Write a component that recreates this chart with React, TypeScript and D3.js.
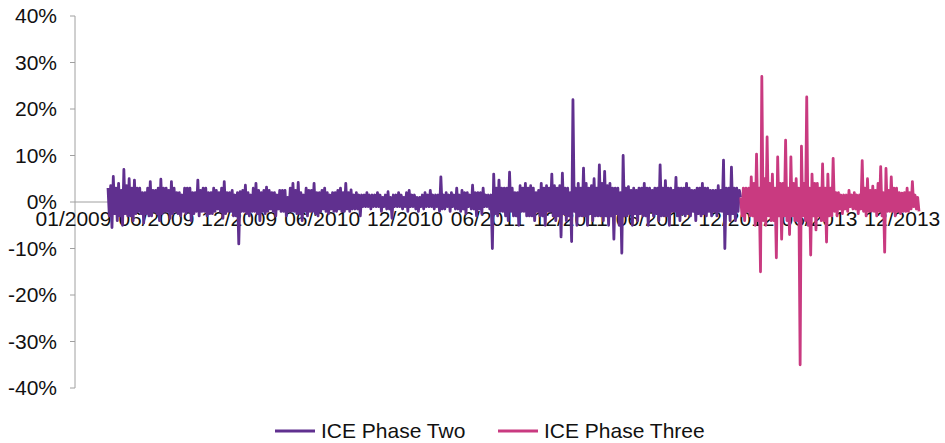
import React from "react";
import * as d3 from "d3";

const TICK_LABELS = ["01/2009","06/2009","12/2009","06/2010","12/2010","06/2011","12/2011","06/2012","12/2012","06/2013","12/2013"];
const Y_TICKS = [-40, -30, -20, -10, 0, 10, 20, 30, 40];
const TICK_STEP_DAYS = 125.5;
const STEP_DAYS = 2;
const PHASE_TWO_START = 50;

const PHASE_TWO = [
  3, -3, 3.5, -5.5, 5.5, -2.5, 3, -4, 4, -3, 2.5, -5, 7, -2.5, 3.5, -3, 5, -3, 3, -4,
  4.7, -2.5, 3, -2, 3, -2.5, 2, -4.5, 2, -2.5, 3, -3, 4.4, -3, 2.5, -2, 2.5, -2.5, 3, -4,
  4.9, -2.5, 3, -2, 3, -2, 2.5, -3.5, 4.4, -2.5, 3, -2, 2, -2.5, 2, -3, 1.5, -2, 3, -2.5,
  3, -2, 3, -4, 2, -2.5, 2, -2, 4.7, -3, 2.5, -2, 3, -2, 3, -3, 2, -2.5, 2, -2.5,
  3, -2, 2.5, -1.5, 2, -2, 3, -3.5, 4.4, -2.5, 2, -2, 2, -2, 2.5, -3, 1.5, -3, 2, -9,
  2.2, -2, 2.5, -2, 3.6, -2.5, 2, -3, 1.5, -2, 3, -2, 4, -2.5, 2.5, -4, 2, -2, 2.5, -2.5,
  3.2, -2, 2.5, -1.5, 2, -2, 2, -3, 1.5, -1.5, 2.5, -2, 2.5, -2, 2.5, -3, 1, -2, 3, -2,
  4, -2, 2.5, -2.5, 4.2, -2.5, 2, -4, 1.5, -2, 3, -3, 2.5, -2, 2.5, -2, 4, -2.5, 2, -3,
  2, -2, 2.5, -1.5, 3, -2, 2, -2.5, 1.5, -1.5, 2, -2, 2, -2, 2.5, -1.5, 3, -2, 2, -2,
  4, -1.5, 2, -2, 2.6, -1.5, 1.5, -1.5, 2, -1.5, 1.5, -3, 1.5, -1, 1.5, -1, 2, -1, 1.5, -1.5,
  1.5, -1, 1.5, -1, 2, -1, 1.5, -2, 1, -1, 1.5, -1.5, 2.2, -1.5, 1, -3.5, 1.5, -1, 1.5, -1,
  2, -1, 1.5, -1.5, 1, -1, 2, -2, 2.5, -1, 1.5, -1, 1.5, -1.5, 1, -2, 1, -1, 1.5, -1.5,
  2, -1, 1.5, -1, 2.5, -1, 1.5, -1.5, 1.5, -1, 1.5, -2, 5.4, -1.5, 1.5, -1.5, 2, -1, 1.5, -2,
  2, -1, 1.5, -1.5, 3, -1.5, 1.5, -2, 2.5, -1.5, 2, -2.5, 2, -1, 1.5, -1.5, 3.6, -1.5, 2, -3,
  2, -1.5, 2, -2.5, 3, -1, 1.5, -1, 1.5, -1.5, 1.5, -10, 6, -2.5, 3, -3, 4.7, -2, 3, -2,
  3, -3, 3, -4, 6.4, -2, 3, -3, 2, -3, 2, -5, 3.5, -2, 3, -2, 4, -3, 3, -3,
  3.5, -3, 3, -4, 2, -2, 2.5, -3, 4, -3, 3, -5, 3.5, -2, 3, -2, 6, -3, 3.5, -4,
  3, -3, 3.5, -7.5, 6.2, -2.5, 3, -4, 3, -3, 2, -8.5, 22, -2, 3, -5, 4, -3, 3, -3,
  7.3, -3, 4, -5, 3, -2.5, 3.5, -4, 5, -3, 3, -3, 8, -3, 4, -4, 6.6, -3, 3.5, -5,
  4, -3, 3, -8, 3, -2.5, 3, -5, 2, -11, 10, -3, 3, -3, 3.3, -2.5, 2.5, -5, 3, -2.5,
  2.5, -4, 3, -2.5, 3, -3, 4, -3, 3, -5, 3, -2, 2.5, -3, 3, -2.5, 3, -4, 8, -3,
  3, -3, 4.6, -3, 3, -5, 3, -2, 2.5, -2, 5.3, -3, 3, -4, 3, -2.5, 3, -3, 4, -2.5,
  3, -3, 2.5, -2, 2.5, -4, 3, -2.5, 3, -3, 4, -2.5, 3, -3, 3, -2, 2.5, -3, 2.5, -2,
  2.5, -3, 3.5, -2, 2.5, -2, 9, -10, 3, -2.5, 3, -4, 7.5, -2.5, 3, -4, 3, -2, 2.5, 1,
];

const PHASE_THREE = [
  1, -3, 3, -4, 3, -2, 3, -3, 5.4, -3, 4, -5, 10.3, -4, 3, -15, 27, -4, 5, -5,
  14, -3, 4, -4, 6, -4, 3, -12, 9.7, -3, 4, -8, 4, -3, 13.3, -4, 3, -7, 9.7, -3,
  4, -4, 5, -4, 3, -35, 12, -3, 4, -4, 22.6, -5, 3, -11.4, 6, -3, 4, -6, 4, -3,
  3, -4, 8.2, -4, 3, -8.6, 6, -3, 3, -3, 9.4, -2, 2, -3, 2, -1.5, 1.5, -2.5, 1.5, -1.5,
  1.5, -2, 2.5, -1, 1.5, -1.5, 2, -1.5, 1.5, -2.5, 1.5, -1.5, 8.9, -2, 3, -3, 5, -2, 2.5, -2,
  3.4, -2, 2.5, -3, 4, -2, 7.6, -3, 2, -10.8, 7.2, -2, 2.5, -2, 5.4, -2, 3, -3, 3, -2,
  2, -2.5, 1.9, -2, 2, -2, 3, -2, 2, -1.5, 4.4, -1, 1.5, -1.5, 1, -2,
];

const SERIES_NAMES = ["ICE Phase Two", "ICE Phase Three"];
const COLORS = ["#60308f", "#c93a80"];

const W = 945, H = 443;
const FONT = "'Liberation Sans', Arial, sans-serif";
const FS = 21;

export default function App() {
  const phaseThreeStart = PHASE_TWO_START + (PHASE_TWO.length - 1) * STEP_DAYS;
  const lastIndex = phaseThreeStart + (PHASE_THREE.length - 1) * STEP_DAYS;
  const x = d3.scaleLinear().domain([0, lastIndex]).range([75, 919]);
  const y = d3.scaleLinear().domain([-40, 40]).range([388, 16]);

  const two = PHASE_TWO.map((v, i) => ({ d: PHASE_TWO_START + i * STEP_DAYS, v }));
  const three = PHASE_THREE.map((v, i) => ({ d: phaseThreeStart + i * STEP_DAYS, v }));
  const line = d3.line<{ d: number; v: number }>().x(p => x(p.d)).y(p => y(p.v));

  const axisColor = "#a0a0a0";

  return (
    <svg width={W} height={H} style={{ position: "absolute", left: 0, top: 0, background: "#fff" }} fontFamily={FONT}>
      {/* y axis */}
      <line x1={x(0)} x2={x(0)} y1={y(40)} y2={y(-40)} stroke={axisColor} strokeWidth={1} />
      {Y_TICKS.map(t => (
        <g key={t}>
          <line x1={x(0) - 5} x2={x(0)} y1={y(t)} y2={y(t)} stroke={axisColor} strokeWidth={1} />
          <text x={57} y={y(t)} dy="0.35em" textAnchor="end" fontSize={FS} fill="#111">{t}%</text>
        </g>
      ))}
      {/* x axis */}
      <line x1={x(0)} x2={x(lastIndex)} y1={y(0)} y2={y(0)} stroke={axisColor} strokeWidth={1} />
      {TICK_LABELS.map((lab, k) => (
        <text key={lab} x={x(k * TICK_STEP_DAYS) - 1.5} y={226} textAnchor="middle" fontSize={FS} fill="#111">{lab}</text>
      ))}
      {/* series */}
      <path d={line(two) || ""} fill="none" stroke={COLORS[0]} strokeWidth={2.8} strokeLinejoin="round" />
      <path d={line(three) || ""} fill="none" stroke={COLORS[1]} strokeWidth={2.8} strokeLinejoin="round" />
      {/* legend */}
      {SERIES_NAMES.map((name, i) => {
        const lx = i === 0 ? 275 : 498;
        return (
          <g key={name}>
            <line x1={lx} x2={lx + 40} y1={431} y2={431} stroke={COLORS[i]} strokeWidth={3} />
            <text x={lx + 46} y={431} dy="0.35em" fontSize={FS} fill="#111">{name}</text>
          </g>
        );
      })}
    </svg>
  );
}
